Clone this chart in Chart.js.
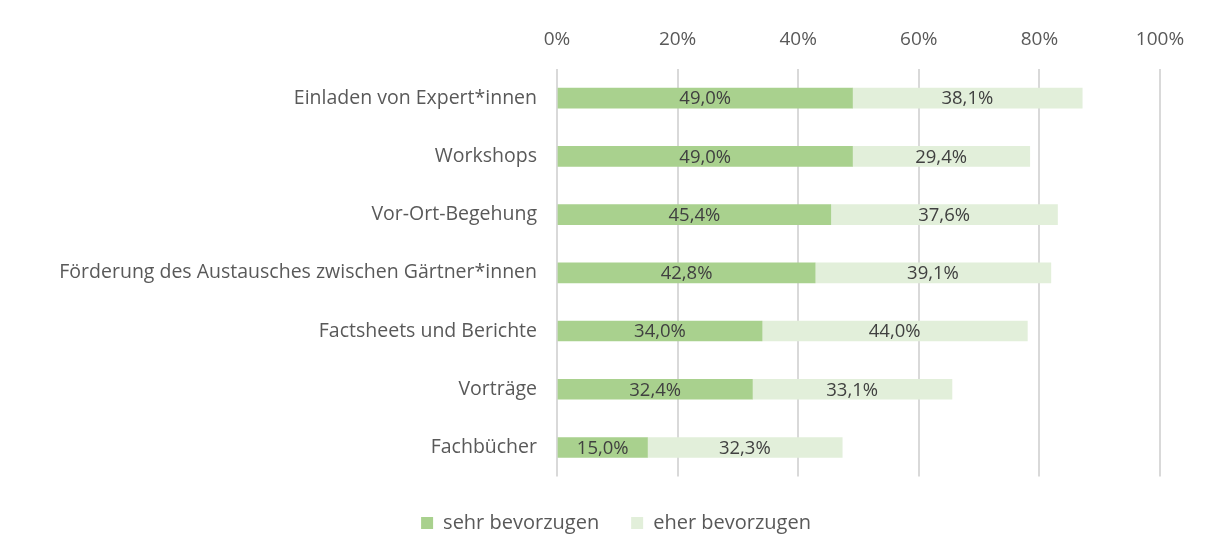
<!DOCTYPE html>
<html><head><meta charset="utf-8">
<script src="https://cdn.jsdelivr.net/npm/chart.js@4/dist/chart.umd.min.js"></script>
<style>html,body{margin:0;padding:0;background:#fff}#wrap{width:1213px;height:557px}</style>
</head><body><div id="wrap"><canvas id="c"></canvas></div>
<script>
const categories = ["Einladen von Expert*innen","Workshops","Vor-Ort-Begehung","Förderung des Austausches zwischen Gärtner*innen","Factsheets und Berichte","Vorträge","Fachbücher"];
const sehrBevorzugen = [49.0,49.0,45.4,42.8,34.0,32.4,15.0];
const eherBevorzugen = [38.1,29.4,37.6,39.1,44.0,33.1,32.3];
const seriesNames = ["sehr bevorzugen","eher bevorzugen"];
const tickValues = [0,20,40,60,80,100];

const FONT = "'Open Sans', Lato, sans-serif";
const labelPlugin = {
  id:'barLabels',
  afterLayout(chart){
    // centre the legend like the reference (offset to the right)
    if (chart.legend) { chart.legend.left = 72; }
  },
  afterDatasetsDraw(chart){
    const ctx = chart.ctx;
    ctx.save();
    ctx.font = "18.5px " + FONT;
    ctx.fillStyle = "#404040";
    ctx.textAlign = "center";
    ctx.textBaseline = "middle";
    chart.data.datasets.forEach((ds,i)=>{
      const meta = chart.getDatasetMeta(i);
      meta.data.forEach((bar,j)=>{
        const x = (bar.x + bar.base)/2;
        ctx.fillText(ds.data[j].toFixed(1).replace('.',',')+'%', x, bar.y+1);
      });
    });
    ctx.restore();
  }
};

new Chart(document.getElementById('c'),{
  type:'bar',
  data:{labels:categories,datasets:[
    {label:seriesNames[0],data:sehrBevorzugen,backgroundColor:'#A9D18E',barThickness:20},
    {label:seriesNames[1],data:eherBevorzugen,backgroundColor:'#E2EFDA',barThickness:20}
  ]},
  options:{
    indexAxis:'y',responsive:true,maintainAspectRatio:false,animation:false,
    layout:{padding:{top:0,right:53,left:0,bottom:14}},
    scales:{
      x:{position:'top',stacked:true,min:0,max:100,
        afterBuildTicks(s){s.ticks=tickValues.map(v=>({value:v}));},
        afterFit(s){s.height=69;},
        ticks:{callback:v=>v+'%',color:'#595959',font:{family:FONT,size:19},padding:18},
        grid:{color:'#d9d9d9',lineWidth:2,drawTicks:false},border:{display:false}},
      y:{stacked:true,afterFit(s){s.width=557;},
        ticks:{color:'#595959',font:{family:FONT,size:19.5},padding:20},
        grid:{display:false,drawTicks:false},border:{display:false}}
    },
    plugins:{
      legend:{position:'bottom',
        title:{display:true,text:' ',font:{size:2},padding:{top:2,bottom:0}},
        labels:{color:'#595959',font:{family:FONT,size:20},boxWidth:12,boxHeight:12,padding:32}},
      tooltip:{enabled:false}
    }
  },
  plugins:[labelPlugin]
});
</script></body></html>
